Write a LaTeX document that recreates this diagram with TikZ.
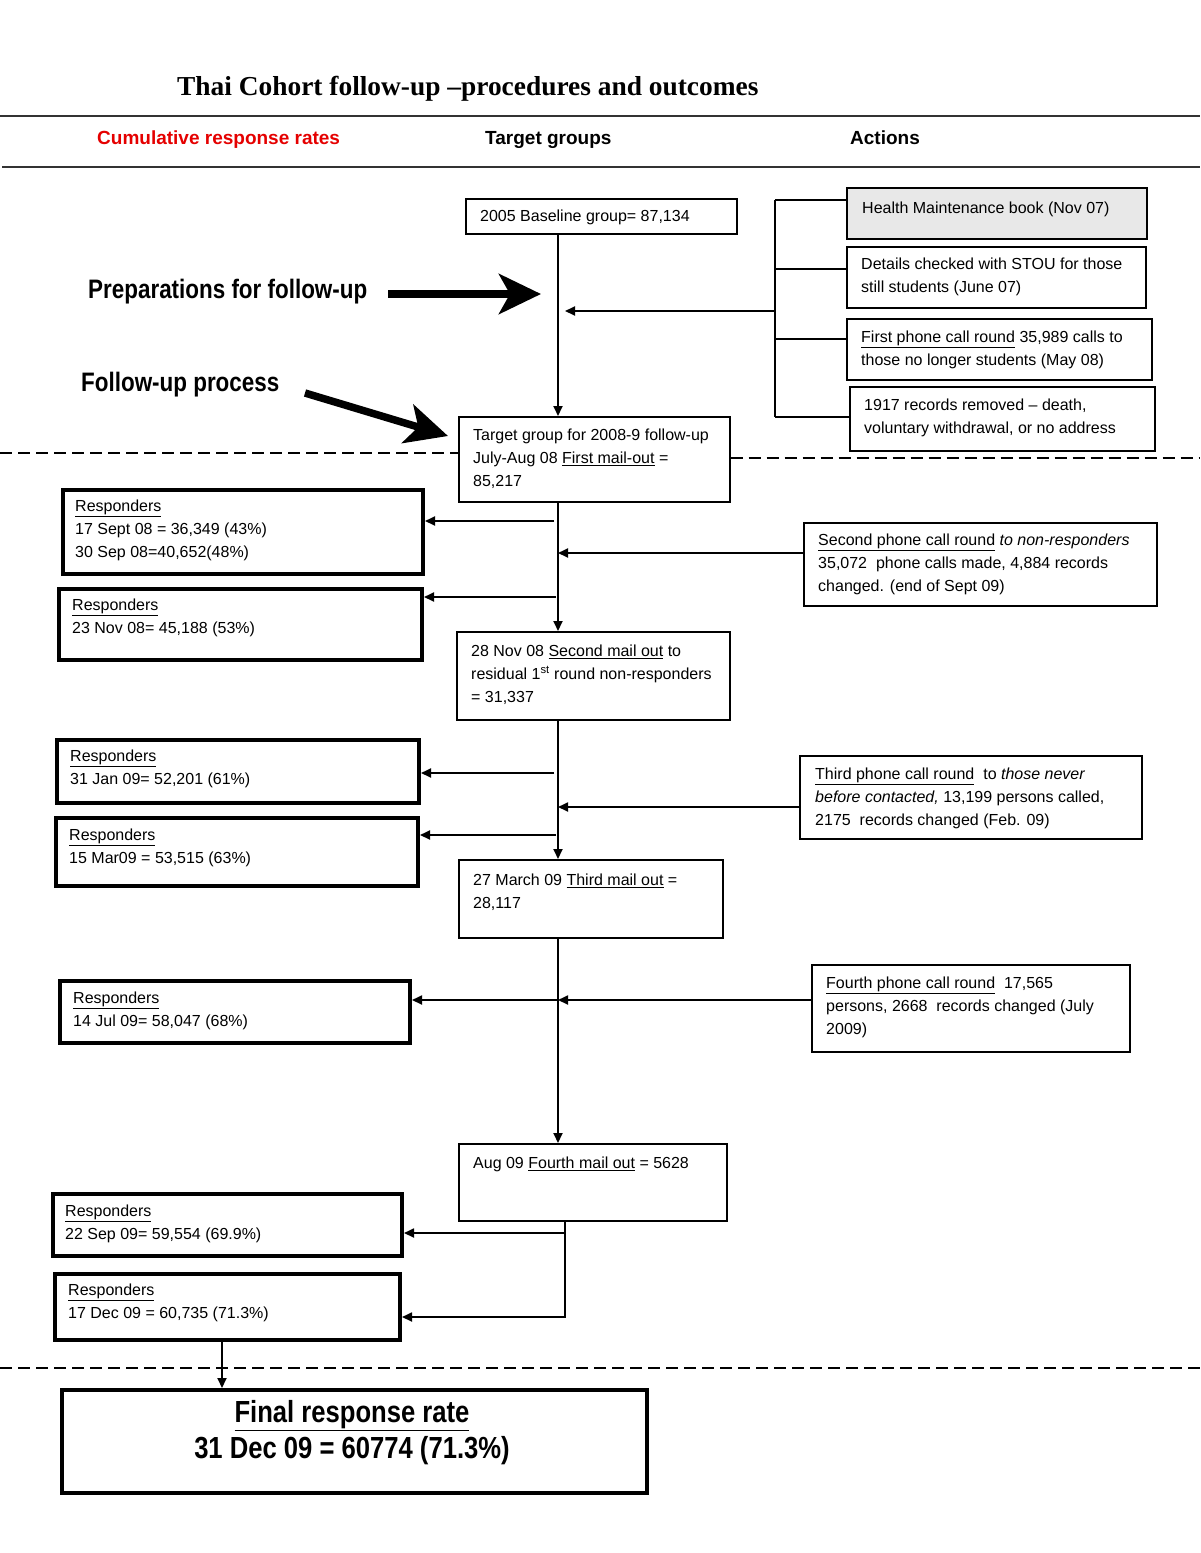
\documentclass[tikz,border=0pt]{standalone}
\usepackage{fontspec}
\setmainfont{Liberation Sans}
\newfontfamily\titlefont{Liberation Serif}
\newfontfamily\narrowfont[FakeStretch=0.84]{Liberation Sans}
\usetikzlibrary{arrows.meta}
\begin{document}
\begin{tikzpicture}[x=1pt,y=-1pt,
  box/.style={draw, line width=1.5pt, inner sep=0pt, anchor=north west},
  rbox/.style={draw, line width=4pt, inner sep=0pt, anchor=north west},
  txt/.style={inner sep=0pt, anchor=west, align=left, font=\fontsize{16}{23}\selectfont},
  hdr/.style={inner sep=0pt, anchor=base west, font=\bfseries\fontsize{19}{22}\selectfont},
  bigtxt/.style={inner sep=0pt, anchor=base west, font=\narrowfont\bfseries\fontsize{26.7}{30}\selectfont},
  con/.style={line width=1.8pt},
  arr/.style={con, -{Triangle[length=10pt,width=9pt]}},
  bigarr/.style={line width=7.5pt, -{Stealth[length=42pt,width=40pt,inset=11pt]}},
  dline/.style={line width=1.5pt, dash pattern=on 12pt off 6pt},
  rule/.style={line width=2pt, black!80}]
\useasboundingbox[fill=white] (0,0) rectangle (1200,1553);

% title and header
\node[inner sep=0pt, anchor=base west, font=\titlefont\bfseries\fontsize{27.4}{30}\selectfont] (title) at (177,95) {Thai Cohort follow-up –procedures and outcomes};
\draw[rule] (0,116) -- (1200,116);
\draw[rule] (2,167) -- (1200,167);
\node[hdr, text=red!90!black] (h1) at (97,144) {Cumulative response rates};
\node[hdr] (h2) at (485,144) {Target groups};
\node[hdr] (h3) at (850,144) {Actions};

% big labels and arrows
\node[bigtxt] (prep) at (88,298) {Preparations for follow-up};
\node[bigtxt] (fup) at (81,391) {Follow-up process};
\coordinate (pa1) at (388,294);
\coordinate (pa2) at (541,294);
\draw[bigarr] (pa1) -- (pa2);
\coordinate (fa1) at (305,393);
\coordinate (fa2) at (448,436);
\draw[bigarr] (fa1) -- (fa2);

% boxes
\node[box, minimum width=271pt, minimum height=35pt] (b0) at (465,198) {};
\node[box, fill=black!9, minimum width=300pt, minimum height=51pt] (hm) at (846,187) {};
\node[box, minimum width=299pt, minimum height=61pt] (dt) at (846,246) {};
\node[box, minimum width=305pt, minimum height=61pt] (fp) at (846,318) {};
\node[box, minimum width=305pt, minimum height=64pt] (rr) at (849,386) {};
\node[box, minimum width=271pt, minimum height=85pt] (m1) at (458,416) {};
\node[rbox, minimum width=360pt, minimum height=84pt] (r1) at (61,488) {};
\node[rbox, minimum width=363pt, minimum height=71pt] (r2) at (57,587) {};
\node[box, minimum width=353pt, minimum height=83pt] (sp) at (803,522) {};
\node[box, minimum width=273pt, minimum height=88pt] (m2) at (456,631) {};
\node[rbox, minimum width=362pt, minimum height=63pt] (r3) at (55,738) {};
\node[rbox, minimum width=362pt, minimum height=68pt] (r4) at (54,816) {};
\node[box, minimum width=342pt, minimum height=83pt] (tp) at (799,755) {};
\node[box, minimum width=264pt, minimum height=78pt] (m3) at (458,859) {};
\node[rbox, minimum width=350pt, minimum height=62pt] (r5) at (58,979) {};
\node[box, minimum width=318pt, minimum height=87pt] (fo) at (811,964) {};
\node[box, minimum width=268pt, minimum height=77pt] (m4) at (458,1143) {};
\node[rbox, minimum width=349pt, minimum height=62pt] (r6) at (51,1192) {};
\node[rbox, minimum width=345pt, minimum height=66pt] (r7) at (53,1272) {};
\node[rbox, minimum width=585pt, minimum height=103pt] (fin) at (60,1388) {};

% texts
\node[txt] (tb0) at (480,217) {2005 Baseline group= 87,134};
\node[txt] (thm) at (862,209) {Health Maintenance book (Nov 07)};
\node[txt] (tdt) at (861,277) {Details checked with STOU for those\\still students (June 07)};
\node[txt] (tfp) at (861,349.5) {\underline{First phone call round} 35,989 calls to\\those no longer students (May 08)};
\node[txt] (trr) at (864,417.5) {1917 records removed – death,\\voluntary withdrawal, or no address};
\node[txt] (tm1) at (473,459) {Target group for 2008-9 follow-up\\July-Aug 08 \underline{First mail-out} =\\85,217};
\node[txt] (tr1) at (75,530.5) {\underline{Responders}\\17 Sept 08 = 36,349 (43\%)\\30 Sep 08=40,652(48\%)};
\node[txt] (tr2) at (72,618) {\underline{Responders}\\23 Nov 08= 45,188 (53\%)};
\node[txt] (tsp) at (818,564.5) {\underline{Second phone call round} \textit{to non-responders}\\35,072~ phone calls made, 4,884 records\\changed. (end of Sept 09)};
\node[txt] (tm2) at (471,675) {28 Nov 08 \underline{Second mail out} to\\residual 1\textsuperscript{st} round non-responders\\= 31,337};
\node[txt] (tr3) at (70,769) {\underline{Responders}\\31 Jan 09= 52,201 (61\%)};
\node[txt] (tr4) at (69,847.5) {\underline{Responders}\\15 Mar09 = 53,515 (63\%)};
\node[txt] (ttp) at (815,798.5) {\underline{Third phone call round}~ to \textit{those never}\\\textit{before contacted,} 13,199 persons called,\\2175~ records changed (Feb. 09)};
\node[txt] (tm3) at (473,892.5) {27 March 09 \underline{Third mail out} =\\28,117};
\node[txt] (tr5) at (73,1010.5) {\underline{Responders}\\14 Jul 09= 58,047 (68\%)};
\node[txt] (tfo) at (826,1007.5) {\underline{Fourth phone call round}~ 17,565\\persons, 2668~ records changed (July\\2009)};
\node[txt] (tm4) at (473,1164) {Aug 09 \underline{Fourth mail out} = 5628};
\node[txt] (tr6) at (65,1224) {\underline{Responders}\\22 Sep 09= 59,554 (69.9\%)};
\node[txt] (tr7) at (68,1303) {\underline{Responders}\\17 Dec 09 = 60,735 (71.3\%)};
\node[inner sep=0pt, align=center, font=\narrowfont\bfseries\fontsize{30.5}{36}\selectfont] (tfin) at (352,1433) {\underline{Final response rate}\\31 Dec 09 = 60774 (71.3\%)};

% dashed separators
\draw[dline] (0,453) -- (m1.west |- 0,453);
\draw[dline] (m1.east |- 0,458) -- (1200,458);
\draw[dline] (0,1368) -- (1200,1368);

% bracket of preparations
\coordinate (bt) at (775,200);
\coordinate (bb) at (775,417);
\coordinate (bm) at (775,311);
\coordinate (bend) at (565,311);
\draw[con] (bt) -- (bb);
\draw[con] (bt) -- (hm.west |- bt);
\draw[con] (775,269) -- (dt.west |- 0,269);
\draw[con] (775,339) -- (fp.west |- 0,339);
\draw[con] (bb) -- (rr.west |- bb);
\draw[arr] (bm) -- (bend);

% spine
\coordinate (s1) at (558,0);
\draw[arr] (b0.south -| s1) -- (m1.north -| s1);
\draw[arr] (m1.south -| s1) -- (m2.north -| s1);
\draw[arr] (m2.south -| s1) -- (m3.north -| s1);
\draw[arr] (m3.south -| s1) -- (m4.north -| s1);

% junctions
\coordinate (j1) at (554,521);
\coordinate (j2) at (558,553);
\coordinate (j3) at (556,597);
\coordinate (j4) at (554,773);
\coordinate (j5) at (558,807);
\coordinate (j6) at (556,835);
\coordinate (j7) at (558,1000);
\draw[arr] (j1) -- (r1.east |- j1);
\draw[arr] (sp.west |- j2) -- (j2);
\draw[arr] (j3) -- (r2.east |- j3);
\draw[arr] (j4) -- (r3.east |- j4);
\draw[arr] (tp.west |- j5) -- (j5);
\draw[arr] (j6) -- (r4.east |- j6);
\draw[arr] (j7) -- (r5.east |- j7);
\draw[arr] (fo.west |- j7) -- (j7);

% bottom part
\coordinate (k) at (565,0);
\coordinate (j8) at (565,1233);
\draw[arr] (m4.south -| k) |- (r7.east |- 0,1317);
\draw[arr] (j8) -- (r6.east |- j8);
\coordinate (f) at (222,0);
\draw[arr] (r7.south -| f) -- (fin.north -| f);
\end{tikzpicture}
\end{document}
